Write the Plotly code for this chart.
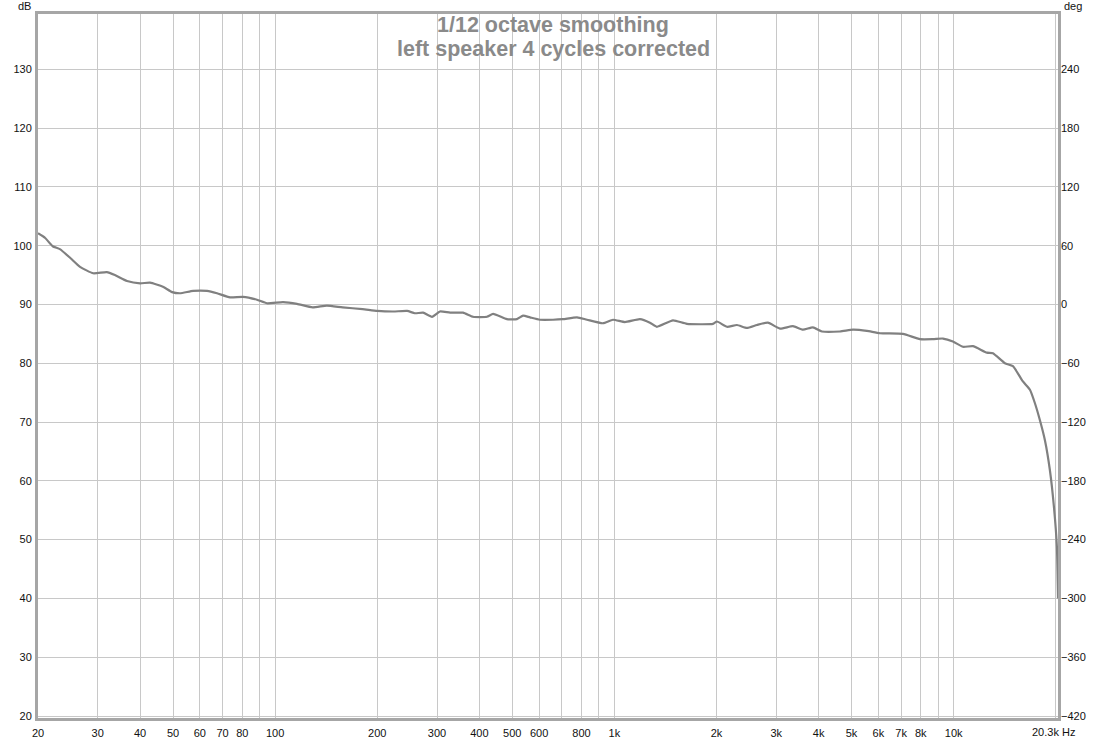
import plotly.graph_objects as go
import numpy as np

# Frequency response data (Hz, dB)
freq_hz = [20, 21.0, 22.1, 23.2, 24.9, 26.6, 29.1, 31.9, 33.7, 36.6, 40.0, 42.8, 46.7,
           49.7, 52.4, 57.3, 63.0, 67.4, 73.6, 80.4, 88.4, 94.6, 105.5, 116, 129, 142,
           158, 181, 200, 223, 245, 258, 273, 290, 306, 328, 358, 383, 421, 439, 482,
           516, 538, 564, 603, 659, 705, 776, 830, 925, 990, 1074, 1189, 1273, 1334,
           1488, 1636, 1952, 2006, 2146, 2297, 2458, 2630, 2834, 3076, 3360, 3595,
           3848, 4090, 4622, 5050, 5550, 6062, 7087, 7954, 8688, 9298, 9950, 10646,
           11397, 12532, 13052, 14158, 14950, 15998, 16780, 17358, 17956, 18576,
           19214, 19744, 20148, 20300]
spl_db = [102.1, 101.3, 99.9, 99.4, 97.9, 96.4, 95.3, 95.5, 95.0, 94.0, 93.6, 93.7, 93.0,
          92.1, 91.9, 92.3, 92.3, 91.9, 91.2, 91.3, 90.8, 90.2, 90.4, 90.1, 89.5, 89.8,
          89.5, 89.2, 88.9, 88.8, 88.9, 88.5, 88.6, 87.9, 88.8, 88.6, 88.6, 87.9, 87.9,
          88.4, 87.5, 87.5, 88.1, 87.8, 87.4, 87.4, 87.5, 87.8, 87.4, 86.8, 87.4, 87.0,
          87.5, 86.9, 86.2, 87.3, 86.7, 86.7, 87.1, 86.2, 86.5, 86.0, 86.5, 86.9, 85.9,
          86.3, 85.7, 86.1, 85.4, 85.4, 85.7, 85.5, 85.1, 85.0, 84.1, 84.1, 84.2, 83.7,
          82.8, 82.9, 81.8, 81.7, 80.0, 79.5, 76.9, 75.5, 73.2, 70.3, 66.9, 61.8, 55.6,
          48.8, 40.0]

x_grid = [20, 30, 40, 50, 60, 70, 80, 90, 100, 200, 300, 400, 500, 600, 700, 800, 900,
          1000, 2000, 3000, 4000, 5000, 6000, 7000, 8000, 9000, 10000, 20000]
x_labels = ["20", "30", "40", "50", "60", "70", "80", "", "100", "200", "300", "400",
            "500", "600", "", "800", "", "1k", "2k", "3k", "4k", "5k", "6k", "7k", "8k",
            "", "10k", ""]
db_ticks = [20, 30, 40, 50, 60, 70, 80, 90, 100, 110, 120, 130]
deg_ticks = [-420, -360, -300, -240, -180, -120, -60, 0, 60, 120, 180, 240]

W, H = 1107, 740
L, R, T, B = 38, 49, 14, 22

y_lo, y_hi = 19.66, 139.4

fig = go.Figure()
fig.add_trace(go.Scatter(x=freq_hz, y=spl_db, mode="lines",
                         line=dict(color="#808080", width=2.2, shape="spline", smoothing=0.5),
                         showlegend=False, hoverinfo="x+y", cliponaxis=False))
# invisible trace to anchor the right (phase) axis
fig.add_trace(go.Scatter(x=[freq_hz[0]], y=[deg_ticks[0]], yaxis="y2", mode="markers",
                         marker=dict(opacity=0), showlegend=False, hoverinfo="skip"))

font_tick = dict(family="Liberation Sans, Arial, sans-serif", size=11, color="#111111")
frame = dict(showline=True, linecolor="#a6a6a6", linewidth=3, mirror=True)
fig.update_layout(
    width=W, height=H,
    margin=dict(l=L, r=R, t=T, b=B),
    paper_bgcolor="white", plot_bgcolor="white",
    xaxis=dict(type="log", range=[np.log10(20), np.log10(20300)],
               tickmode="array", tickvals=x_grid, ticktext=x_labels,
               showgrid=True, gridcolor="#c8c8c8", gridwidth=1, automargin=False,
               zeroline=False, ticks="", tickfont=font_tick,
               ticklabelstandoff=3, layer="below traces", **frame),
    yaxis=dict(range=[y_lo, y_hi], tickmode="array", tickvals=db_ticks,
               showgrid=True, gridcolor="#c8c8c8", gridwidth=1, automargin=False,
               zeroline=False, ticks="", tickfont=font_tick,
               ticklabelstandoff=1, layer="below traces", **frame),
    yaxis2=dict(range=[(y_lo - 90) * 6, (y_hi - 90) * 6], overlaying="y", side="right",
                tickmode="array", tickvals=deg_ticks, showgrid=False, zeroline=False,
                automargin=False, showline=False, ticks="", tickfont=font_tick,
                ticklabelstandoff=2, layer="below traces"),
)

pw, ph = W - L - R, H - T - B
title_font = dict(family="Liberation Sans, Arial, sans-serif", size=21.5, color="#8a8a8a")
fig.add_annotation(text="<b>1/12 octave smoothing</b>", xref="paper", yref="paper",
                   x=(553 - L) / pw, y=1 - (25 - T) / ph,
                   xanchor="center", yanchor="middle", showarrow=False, font=title_font)
fig.add_annotation(text="<b>left speaker 4 cycles corrected</b>", xref="paper", yref="paper",
                   x=(553 - L) / pw, y=1 - (49 - T) / ph,
                   xanchor="center", yanchor="middle", showarrow=False, font=title_font)

unit_font = dict(family="Liberation Sans, Arial, sans-serif", size=11, color="#111111")
fig.add_annotation(text="dB", xref="paper", yref="paper", x=(33 - L) / pw,
                   y=1 - (6 - T) / ph, xanchor="right", yanchor="middle",
                   showarrow=False, font=unit_font)
fig.add_annotation(text="deg", xref="paper", yref="paper", x=(1062 - L) / pw,
                   y=1 - (6 - T) / ph, xanchor="left", yanchor="middle",
                   showarrow=False, font=unit_font)
fig.add_annotation(text="20.3k Hz", xref="paper", yref="paper", x=(1077 - L) / pw,
                   y=1 - (732 - T) / ph, xanchor="right", yanchor="middle",
                   showarrow=False, font=unit_font)

fig.write_html("out.html", config={"displayModeBar": False},
               post_script="document.body.style.margin='0';document.body.style.overflow='hidden';")
